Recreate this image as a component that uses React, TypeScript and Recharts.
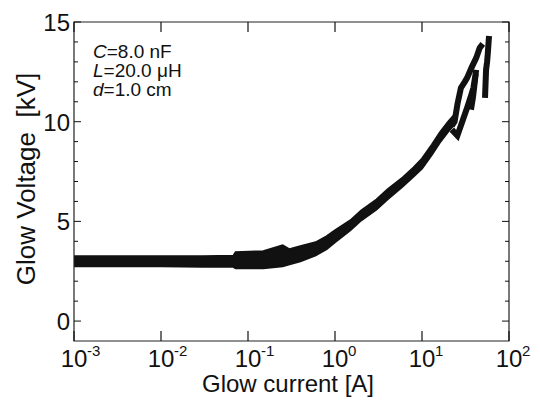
import React from 'react';
import {
  ComposedChart,
  Area,
  Line,
  XAxis,
  YAxis,
  ReferenceArea,
  Customized,
} from 'recharts';

const FONT = '"Liberation Sans", Arial, Helvetica, sans-serif';
const INK = '#111';

// plot frame edges (px) used for the inward tick marks
const PLOT_LEFT = 74;
const PLOT_RIGHT = 509;
const PLOT_TOP = 22;
const PLOT_BOTTOM = 341;

const xTicks = [0.001, 0.01, 0.1, 1, 10, 100];
const yTicks = [0, 1, 2, 3, 4, 5, 6, 7, 8, 9, 10, 11, 12, 13, 14, 15];
const yLabelTicks = [0, 5, 10, 15];

// main trace, drawn as a band (low / high edge of the scatter)
const bandCurrent = [0.001, 0.003, 0.01, 0.03, 0.068, 0.072, 0.15, 0.25, 0.3, 0.4, 0.6, 0.8, 1, 1.5, 2, 3, 4, 6, 8, 10, 13, 16, 20, 23];
const bandLow = [2.75, 2.75, 2.75, 2.72, 2.72, 2.65, 2.65, 2.75, 2.85, 3.0, 3.3, 3.6, 3.95, 4.55, 5.05, 5.6, 6.1, 6.75, 7.25, 7.65, 8.35, 8.95, 9.5, 9.8];
const bandHigh = [3.25, 3.25, 3.25, 3.25, 3.28, 3.45, 3.5, 3.8, 3.6, 3.75, 3.95, 4.25, 4.55, 5.05, 5.55, 6.1, 6.6, 7.2, 7.7, 8.15, 8.85, 9.45, 10.0, 10.3];

// branches near the top end
const branchACurrent = [22, 23.7, 25.6, 28, 31, 33, 37, 42, 46, 50];
const branchAVoltage = [9.8, 10.0, 10.9, 11.7, 12.0, 12.2, 12.7, 13.2, 13.7, 13.9];
const branchBCurrent = [22, 25.5, 29, 33, 36, 39, 42];
const branchBVoltage = [9.6, 9.3, 10.0, 10.7, 11.2, 11.7, 12.6];
const branchCCurrent = [37, 39, 40, 42];
const branchCVoltage = [10.6, 11.2, 11.6, 12.4];
const spikeCurrent = [53, 54.5, 56, 57, 58.5, 59];
const spikeVoltage = [11.2, 12.6, 13.0, 13.4, 14.1, 14.3];

const bandData = bandCurrent.map((c, i) => ({ current: c, range: [bandLow[i], bandHigh[i]] }));
const toSeries = (cs: number[], vs: number[]) => cs.map((c, i) => ({ current: c, voltage: vs[i] }));
const branchA = toSeries(branchACurrent, branchAVoltage);
const branchB = toSeries(branchBCurrent, branchBVoltage);
const branchC = toSeries(branchCCurrent, branchCVoltage);
const spike = toSeries(spikeCurrent, spikeVoltage);

const XTick = (props: any) => {
  const { x, payload } = props;
  const exp = Math.round(Math.log10(payload.value));
  return (
    <g>
      <line x1={x} x2={x} y1={PLOT_BOTTOM} y2={PLOT_BOTTOM - 10} stroke={INK} strokeWidth={1.2} />
      <line x1={x} x2={x} y1={PLOT_TOP} y2={PLOT_TOP + 10} stroke={INK} strokeWidth={1.2} />
      <text x={x} y={367} textAnchor="middle" fontSize={24} fontFamily={FONT} fill={INK}>10</text>
      <text x={x + 13} y={356} textAnchor="start" fontSize={15} fontFamily={FONT} fill={INK}>{exp}</text>
    </g>
  );
};

const YTick = (props: any) => {
  const { y, payload } = props;
  const major = yLabelTicks.includes(payload.value);
  const len = major ? 7 : 4;
  return (
    <g>
      <line x1={PLOT_LEFT} x2={PLOT_LEFT + len} y1={y} y2={y} stroke={INK} strokeWidth={1} />
      <line x1={PLOT_RIGHT} x2={PLOT_RIGHT - len} y1={y} y2={y} stroke={INK} strokeWidth={1} />
      {major && (
        <text x={70} y={y + 9} textAnchor="end" fontSize={24} fontFamily={FONT} fill={INK}>
          {payload.value}
        </text>
      )}
    </g>
  );
};

const Texts = () => (
  <g fontFamily={FONT} fill={INK}>
    <text x={93} y={58} fontSize={19}>
      <tspan fontStyle="italic">C</tspan>=8.0 nF
    </text>
    <text x={93} y={77} fontSize={19}>
      <tspan fontStyle="italic">L</tspan>=20.0 μH
    </text>
    <text x={93} y={96} fontSize={19}>
      <tspan fontStyle="italic">d</tspan>=1.0 cm
    </text>
    <text x={288} y={392} textAnchor="middle" fontSize={24}>Glow current [A]</text>
    <text
      x={0}
      y={0}
      transform="translate(35,179) rotate(-90)"
      textAnchor="middle"
      fontSize={26}
      style={{ whiteSpace: 'pre' }}
    >
      Glow Voltage  [kV]
    </text>
  </g>
);

export default function App() {
  return (
    <div style={{ width: 540, height: 402, background: '#fff' }}>
      <style>{'body{margin:0}'}</style>
      <ComposedChart
        width={540}
        height={402}
        data={bandData}
        margin={{ top: 22, right: 31, bottom: 11, left: 0 }}
        style={{ fontFamily: FONT }}
      >
        <XAxis
          dataKey="current"
          type="number"
          scale="log"
          domain={[0.001, 100]}
          ticks={xTicks}
          interval={0}
          allowDataOverflow
          height={50}
          axisLine={false}
          tickLine={false}
          tick={XTick}
        />
        <YAxis
          type="number"
          domain={[-1, 15]}
          ticks={yTicks}
          interval={0}
          allowDataOverflow
          width={74}
          axisLine={false}
          tickLine={false}
          tick={YTick}
        />
        <Area
          dataKey="range"
          type="linear"
          stroke={INK}
          strokeWidth={2}
          fill={INK}
          fillOpacity={1}
          dot={false}
          activeDot={false}
          isAnimationActive={false}
        />
        <Line data={branchA} dataKey="voltage" type="linear" stroke={INK} strokeWidth={6} dot={false} activeDot={false} isAnimationActive={false} />
        <Line data={branchB} dataKey="voltage" type="linear" stroke={INK} strokeWidth={6} dot={false} activeDot={false} isAnimationActive={false} />
        <Line data={branchC} dataKey="voltage" type="linear" stroke={INK} strokeWidth={5} dot={false} activeDot={false} isAnimationActive={false} />
        <Line data={spike} dataKey="voltage" type="linear" stroke={INK} strokeWidth={6} dot={false} activeDot={false} isAnimationActive={false} />
        <ReferenceArea x1={0.001} x2={100} y1={-1} y2={15} fill="none" stroke="#222" strokeWidth={1.2} ifOverflow="visible" />
        <Customized component={Texts} />
      </ComposedChart>
    </div>
  );
}
